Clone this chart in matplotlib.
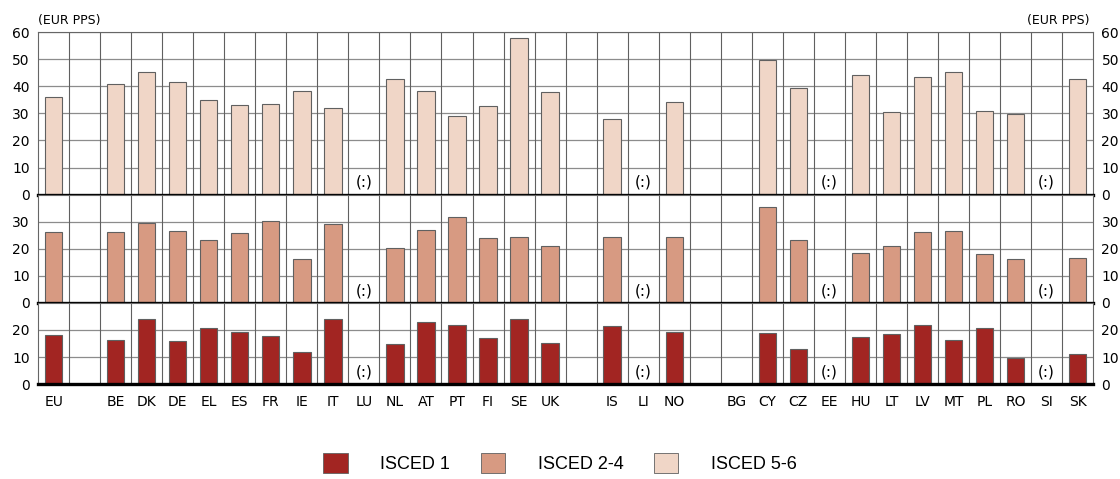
import numpy as np
import matplotlib.pyplot as plt
from matplotlib.patches import Patch

countries = ["EU", "", "BE", "DK", "DE", "EL", "ES", "FR", "IE", "IT", "LU", "NL", "AT",
             "PT", "FI", "SE", "UK", "", "IS", "LI", "NO", "", "BG", "CY", "CZ", "EE",
             "HU", "LT", "LV", "MT", "PL", "RO", "SI", "SK"]
nan = np.nan
# ISCED 5-6 (top panel)
isced56 = [36.0, nan, 40.8, 45.4, 41.7, 34.8, 33.0, 33.5, 38.2, 32.1, nan, 42.7, 38.4,
           29.1, 32.6, 57.9, 38.0, nan, 27.9, nan, 34.1, nan, nan, 49.8, 39.5, nan,
           44.3, 30.6, 43.5, 45.1, 30.8, 29.7, nan, 42.8]
# ISCED 2-4 (middle panel)
isced24 = [26.2, nan, 26.1, 29.4, 26.7, 23.1, 25.7, 30.4, 16.3, 29.0, nan, 20.1, 27.0,
           31.6, 23.8, 24.2, 20.9, nan, 24.2, nan, 24.2, nan, nan, 35.4, 23.1, nan,
           18.4, 20.9, 26.1, 26.4, 18.0, 16.1, nan, 16.4]
# ISCED 1 (bottom panel)
isced1 = [18.0, nan, 16.3, 24.1, 16.0, 20.9, 19.4, 17.8, 12.0, 24.1, nan, 14.7, 23.0,
          21.9, 17.0, 24.2, 15.2, nan, 21.5, nan, 19.4, nan, nan, 18.9, 13.1, nan,
          17.4, 18.6, 22.0, 16.3, 20.6, 9.7, nan, 11.1]
not_available = ["LU", "LI", "EE", "SI"]

c1, c24, c56 = "#a22522", "#d79a82", "#f0d6c7"

fig = plt.figure(figsize=(11.2, 4.79), dpi=100)
gs = fig.add_gridspec(3, 1, height_ratios=[60, 40, 30], hspace=0,
                      left=0.034, right=0.976, top=0.933, bottom=0.198)
axes = [fig.add_subplot(gs[i]) for i in range(3)]
x = np.arange(len(countries))

panels = [(isced56, c56, 60, [0, 10, 20, 30, 40, 50, 60]),
          (isced24, c24, 40, [0, 10, 20, 30]),
          (isced1, c1, 30, [0, 10, 20])]

for ax, (vals, col, top, ticks) in zip(axes, panels):
    ax.bar(x, vals, width=0.56, color=col, edgecolor="#606060", linewidth=0.8, zorder=2)
    ax.set_xlim(-0.5, len(countries) - 0.5)
    ax.set_ylim(0, top)
    ax.set_yticks(ticks)
    ax.set_axisbelow(True)
    for t in ticks[1:]:
        ax.axhline(t, color="#8c8c8c", lw=0.9, zorder=0)
    for b in np.arange(0.5, len(countries) - 0.5, 1):
        ax.axvline(b, color="#606060", lw=0.8, zorder=0)
    ax.axhline(0, color="black", lw=2.4, zorder=3, clip_on=False)
    for s in ["left", "right", "top"]:
        ax.spines[s].set_color("#666666")
        ax.spines[s].set_linewidth(0.8)
    ax.spines["bottom"].set_visible(False)
    ax.tick_params(axis="y", length=0, labelsize=10, labelright=True, pad=6)
    ax.tick_params(axis="x", length=0)
    ax.set_xticks(x)
    ax.set_xticklabels([])
    for i, c in enumerate(countries):
        if c in not_available:
            ax.text(i, 4.5, "(:)", ha="center", va="center", fontsize=11, zorder=4)

axes[2].set_xticklabels(countries, fontsize=10)
axes[2].tick_params(axis="x", pad=8)

fig.text(0.034, 0.943, "(EUR PPS)", ha="left", va="bottom", fontsize=9)
fig.text(0.973, 0.943, "(EUR PPS)", ha="right", va="bottom", fontsize=9)

handles = [Patch(facecolor=c1, edgecolor="#606060", lw=0.6),
           Patch(facecolor=c24, edgecolor="#606060", lw=0.6),
           Patch(facecolor=c56, edgecolor="#606060", lw=0.6)]
fig.legend(handles, ["ISCED 1", "ISCED 2-4", "ISCED 5-6"], loc="lower center",
           bbox_to_anchor=(0.5, -0.022), ncol=3, frameon=False,
           prop={"family": "Liberation Sans", "size": 13},
           handlelength=1.35, handleheight=1.35, handletextpad=1.8, columnspacing=1.7)

fig.savefig("out.png", dpi=100)
